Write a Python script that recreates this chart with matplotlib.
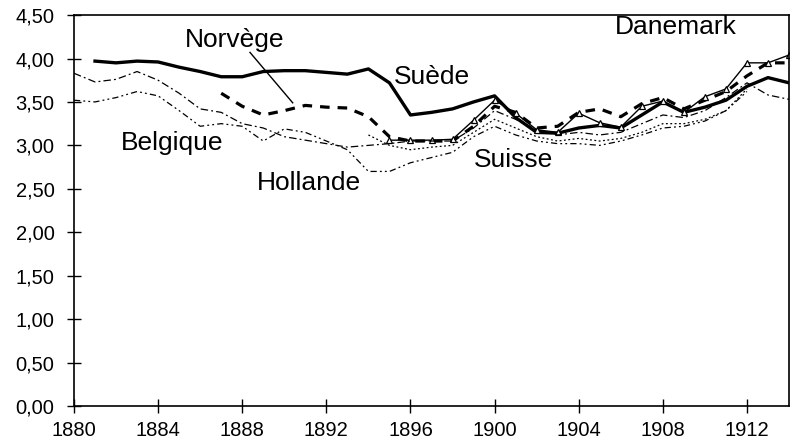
import numpy as np
import matplotlib.pyplot as plt
from matplotlib.ticker import FuncFormatter

plt.rcParams['font.family'] = ['Liberation Sans', 'DejaVu Sans']

# Suède
years_suede = list(range(1881, 1915))
suede = [3.97, 3.95, 3.97, 3.96, 3.90, 3.85, 3.79, 3.79, 3.85, 3.86,
         3.86, 3.84, 3.82, 3.88, 3.72, 3.35, 3.38, 3.42, 3.50, 3.57,
         3.32, 3.15, 3.14, 3.20, 3.23, 3.20, 3.35, 3.50, 3.38, 3.44,
         3.52, 3.68, 3.78, 3.72]

# Norvège
years_norvege = list(range(1887, 1915))
norvege = [3.60, 3.45, 3.35, 3.40, 3.46, 3.44, 3.43, 3.33, 3.10, 3.05,
           3.05, 3.05, 3.22, 3.45, 3.38, 3.20, 3.22, 3.38, 3.42, 3.33,
           3.48, 3.55, 3.42, 3.52, 3.62, 3.80, 3.95, 3.95]

# Danemark
years_danemark = list(range(1895, 1915))
danemark = [3.06, 3.06, 3.06, 3.07, 3.29, 3.52, 3.37, 3.18, 3.15, 3.37,
            3.26, 3.21, 3.45, 3.51, 3.38, 3.56, 3.65, 3.95, 3.95, 4.04]

# Belgique
years_belgique = list(range(1880, 1915))
belgique = [3.83, 3.73, 3.76, 3.85, 3.75, 3.60, 3.42, 3.38, 3.25, 3.20,
            3.10, 3.06, 3.02, 2.98, 3.00, 3.02, 3.05, 3.05, 3.05, 3.20,
            3.40, 3.30, 3.18, 3.12, 3.15, 3.12, 3.15, 3.25, 3.35, 3.32,
            3.40, 3.55, 3.72, 3.58, 3.53]

# Hollande
years_hollande = list(range(1880, 1913))
hollande = [3.52, 3.50, 3.55, 3.62, 3.57, 3.40, 3.22, 3.25, 3.22, 3.05,
            3.19, 3.15, 3.05, 2.95, 2.70, 2.70, 2.80, 2.86, 2.92, 3.10,
            3.22, 3.12, 3.05, 3.02, 3.02, 3.00, 3.05, 3.12, 3.20, 3.22,
            3.28, 3.40, 3.62]

# Suisse
years_suisse = list(range(1894, 1913))
suisse = [3.12, 3.00, 2.95, 2.98, 3.00, 3.15, 3.30, 3.20, 3.10, 3.05,
          3.08, 3.05, 3.08, 3.15, 3.25, 3.25, 3.30, 3.40, 3.65]

xticks = list(range(1880, 1913, 4))
yticks = np.arange(0, 4.51, 0.5)

fig = plt.figure(figsize=(7.93, 4.43), dpi=100)
ax = fig.add_axes([0.0933, 0.0835, 0.9017, 0.8825])

ax.plot(years_suede, suede, color='black', lw=2.4, solid_joinstyle='round')
ax.plot(years_norvege, norvege, color='black', lw=2.3, ls=(0, (3, 2.5)))
ax.plot(years_danemark, danemark, color='black', lw=1.0, marker='^',
        markersize=4, markerfacecolor='white', markeredgewidth=0.9)
ax.plot(years_belgique, belgique, color='black', lw=0.9, ls=(0, (6, 2.5, 1.5, 2.5)))
ax.plot(years_hollande, hollande, color='black', lw=0.9, ls=(0, (5, 2.5, 1.5, 2.5, 1.5, 2.5)))
ax.plot(years_suisse, suisse, color='black', lw=0.9, ls=(0, (1.5, 2)))

fs = 19
ax.text(1887.65, 4.21, 'Norvège', fontsize=fs, ha='center', va='center')
ax.text(1897.0, 3.79, 'Suède', fontsize=fs, ha='center', va='center')
ax.text(1908.6, 4.36, 'Danemark', fontsize=fs, ha='center', va='center')
ax.text(1884.66, 3.03, 'Belgique', fontsize=fs, ha='center', va='center')
ax.text(1891.17, 2.57, 'Hollande', fontsize=fs, ha='center', va='center')
ax.text(1900.9, 2.83, 'Suisse', fontsize=fs, ha='center', va='center')
ax.plot([1888.37, 1890.4], [4.07, 3.49], color='black', lw=1.0)

ax.set_xlim(1880, 1914)
ax.set_ylim(0, 4.5)
ax.set_xticks(xticks)
ax.set_yticks(yticks)
ax.yaxis.set_major_formatter(FuncFormatter(lambda v, p: '{:.2f}'.format(v).replace('.', ',')))
ax.tick_params(direction='inout', length=10, width=1.0, labelsize=14.5, colors='black')
ax.tick_params(axis='y', pad=9)
ax.tick_params(axis='x', pad=6)
for s in ax.spines.values():
    s.set_linewidth(1.2)

fig.savefig('out.png', dpi=100)
